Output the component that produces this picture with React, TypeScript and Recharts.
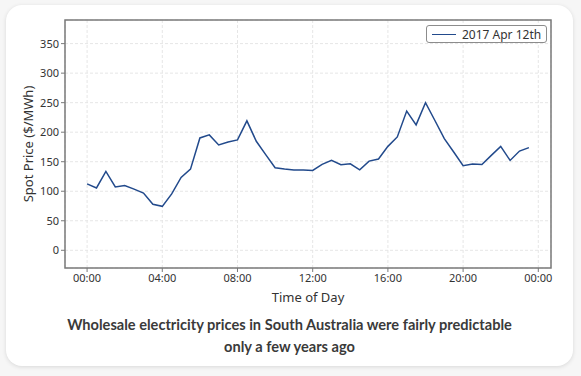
import {
  CartesianGrid,
  Legend,
  Line,
  LineChart,
  ReferenceArea,
  XAxis,
  YAxis,
} from "recharts";

// half-hourly trading intervals, in hours from midnight
const hours = [
  0, 0.5, 1, 1.5, 2, 2.5, 3, 3.5, 4, 4.5, 5, 5.5, 6, 6.5, 7, 7.5, 8, 8.5, 9, 9.5, 10, 10.5, 11, 11.5,
  12, 12.5, 13, 13.5, 14, 14.5, 15, 15.5, 16, 16.5, 17, 17.5, 18, 18.5, 19, 19.5, 20, 20.5, 21, 21.5,
  22, 22.5, 23, 23.5,
];

const spotPrice = [
  112.5, 105.6, 133.5, 107.4, 109.6, 103.5, 97, 77.8, 74.4, 95.4, 123.3, 137.5, 190.3, 195.4, 178.4,
  183.5, 186.9, 219.2, 184.6, 162, 139.7, 137.5, 135.8, 135.8, 135.2, 145.4, 152.2, 144.8, 146.5,
  136.3, 151, 154.5, 176, 192, 235.7, 212.4, 249.9, 219.8, 189, 166.4, 143.1, 146, 145.4, 160.7, 176,
  152.2, 168, 173.8,
];

const xTicks = [0, 4, 8, 12, 16, 20, 24];
const yTicks = [0, 50, 100, 150, 200, 250, 300, 350];
const seriesName = "2017 Apr 12th";

const data = hours.map((h, i) => ({ h, price: spotPrice[i] }));

const FONT = "'Noto Sans', 'Open Sans', sans-serif";
const TITLE_FONT = "Lato, 'Noto Sans', sans-serif";
const FRAME = "#7a7a7a";
const LINE = "#224a8c";

const fmtHour = (h: number) => `${String(h % 24).padStart(2, "0")}:00`;

const LegendBox = () => (
  <div
    style={{
      display: "flex",
      alignItems: "center",
      border: "1px solid #8c8c8c",
      borderRadius: 3,
      background: "#fff",
      padding: "1px 5px 1px 5px",
      height: 14,
      fontFamily: FONT,
      fontSize: 12,
      color: "#333",
      whiteSpace: "nowrap",
    }}
  >
    <span style={{ display: "inline-block", width: 24, height: 0, borderTop: `1.5px solid ${LINE}`, marginRight: 6 }} />
    {seriesName}
  </div>
);

export default function App() {
  return (
    <div
      style={{
        position: "absolute",
        left: 0,
        top: 0,
        width: 581,
        height: 376,
        background: "#f6f6f6",
        fontFamily: FONT,
      }}
    >
      <div
        style={{
          position: "absolute",
          left: 6,
          top: 5,
          width: 567,
          height: 361,
          background: "#fff",
          borderRadius: 16,
          boxShadow: "0 1px 4px rgba(0,0,0,0.12)",
        }}
      />
      <div style={{ position: "absolute", left: 0, top: 0 }}>
        <LineChart width={581} height={310} data={data} margin={{ top: 20, right: 30, bottom: 12, left: 5 }}>
          <CartesianGrid stroke="#e6e6e6" strokeDasharray="3 2" />
          <XAxis
            dataKey="h"
            type="number"
            domain={[-1.175, 24.675]}
            ticks={xTicks}
            tickFormatter={fmtHour}
            allowDataOverflow
            height={30}
            axisLine={false}
            tickLine={{ stroke: FRAME }}
            tickSize={4}
            tick={{ fill: "#333", fontSize: 11, fontFamily: FONT }}
          />
          <YAxis
            type="number"
            domain={[-30, 390]}
            ticks={yTicks}
            allowDataOverflow
            width={60}
            axisLine={false}
            tickLine={{ stroke: FRAME }}
            tickSize={4}
            tick={{ fill: "#333", fontSize: 11, fontFamily: FONT }}
          />
          <ReferenceArea
            x1={-1.175}
            x2={24.675}
            y1={-30}
            y2={390}
            fill="none"
            stroke={FRAME}
            strokeWidth={1.5}
          />
          <Line
            type="linear"
            dataKey="price"
            name={seriesName}
            stroke={LINE}
            strokeWidth={1.5}
            dot={false}
            isAnimationActive={false}
          />
          <Legend
            layout="horizontal"
            verticalAlign="middle"
            align="center"
            wrapperStyle={{ left: 426, top: 25, width: "auto" }}
            content={() => <LegendBox />}
          />
        </LineChart>
      </div>
      <div
        style={{
          position: "absolute",
          left: 28,
          top: 144,
          transform: "translate(-50%, -50%) rotate(-90deg)",
          fontSize: 13,
          color: "#333",
          whiteSpace: "nowrap",
        }}
      >
        Spot Price ($/MWh)
      </div>
      <div
        style={{
          position: "absolute",
          left: 308,
          top: 297,
          transform: "translate(-50%, -50%)",
          fontSize: 13,
          color: "#333",
          whiteSpace: "nowrap",
        }}
      >
        Time of Day
      </div>
      <div
        style={{
          position: "absolute",
          left: 6,
          width: 567,
          top: 314,
          textAlign: "center",
          fontFamily: TITLE_FONT,
          fontSize: 14.6,
          fontWeight: 700,
          lineHeight: "22px",
          color: "#3a3a3a",
        }}
      >
        Wholesale electricity prices in South Australia were fairly predictable
        <br />
        only a few years ago
      </div>
    </div>
  );
}
